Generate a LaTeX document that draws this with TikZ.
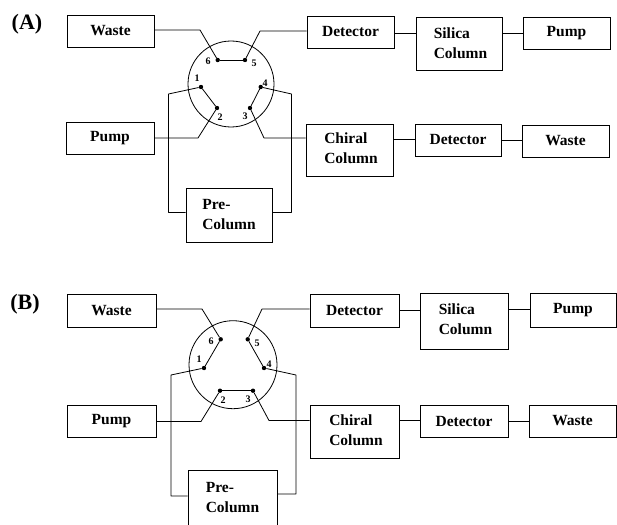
\documentclass[tikz,border=0pt]{standalone}
\usepackage{fontspec}
\setmainfont{Liberation Serif}
\begin{document}
\begin{tikzpicture}[x=1pt,y=-1pt,
  lbox/.style={draw,line width=0.8pt,font=\fontsize{15.5}{20}\selectfont\bfseries,align=left,inner sep=0pt},
  wire/.style={draw,line width=0.8pt,line join=round},
  port/.style={circle,fill=black,inner sep=0pt,minimum size=4.4pt},
  num/.style={font=\fontsize{10}{10}\selectfont\bfseries,inner sep=0pt},
  panel/.style={font=\fontsize{22}{24}\selectfont\bfseries,inner sep=0pt}]
\useasboundingbox (0,0) rectangle (617,524);
\node[panel] (labA) at (27,24) {(A)};
\node[panel] (labB) at (25,304) {(B)};
% Panel A boxes
\node[lbox,minimum width=87pt,minimum height=32pt] (aWaste) at (110.5,31) {Waste};
\node[lbox,minimum width=88pt,minimum height=32pt] (aPump) at (110,138) {Pump};
\node[lbox,minimum width=87pt,minimum height=32pt] (aDet1) at (350.5,32) {Detector};
\node[lbox,minimum width=86pt,minimum height=53pt] (aSil) at (459,43.5) {\hspace*{3pt}Silica\\\hspace*{3pt}Column};
\node[lbox,minimum width=87pt,minimum height=32pt] (aPump2) at (566.5,33) {Pump};
\node[lbox,minimum width=87pt,minimum height=52pt] (aChi) at (349.5,150) {\hspace*{3pt}Chiral\\\hspace*{3pt}Column\\[-23pt]\strut};
\node[lbox,minimum width=86pt,minimum height=32pt] (aDet2) at (458,140) {Detector};
\node[lbox,minimum width=87pt,minimum height=32pt] (aWaste2) at (565.5,141) {Waste};
\node[lbox,minimum width=86pt,minimum height=54pt] (aPre) at (229,215) {Pre-\\Column};
% Panel A valve
\node[draw,circle,line width=0.8pt,minimum size=86pt,inner sep=0pt] (aV) at (231,84) {};
\node[port] (a1) at (201,87) {};
\node[port] (a2) at (217,108) {};
\node[port] (a3) at (250,108) {};
\node[port] (a4) at (260.7,87) {};
\node[port] (a5) at (245,60) {};
\node[port] (a6) at (217.7,60) {};
\node[num] (na1) at (197,78) {1};
\node[num] (na2) at (220,117) {2};
\node[num] (na3) at (245,116) {3};
\node[num] (na4) at (265,83) {4};
\node[num] (na5) at (254,63) {5};
\node[num] (na6) at (208,61) {6};
\draw[wire] (a6)--(a5);
\draw[wire] (a1)--(a2);
\draw[wire] (a3)--(a4);
\coordinate (aw1) at (200,30);
\draw[wire] (aWaste.east|-aw1)--(aw1)--(a6);
\coordinate (aw2) at (260,31);
\draw[wire] (aDet1.west|-aw2)--(aw2)--(a5);
\coordinate (aw3) at (198,138);
\draw[wire] (aPump.east|-aw3)--(aw3)--(a2);
\coordinate (aw4) at (264,138);
\draw[wire] (aChi.west|-aw4)--(aw4)--(a3);
\coordinate (aw5) at (168.5,94); \coordinate (aw6) at (168.5,212.5);
\draw[wire] (a1)--(aw5)--(aw6)--(aPre.west|-aw6);
\coordinate (aw7) at (291.5,94); \coordinate (aw8) at (291.5,212.5);
\draw[wire] (a4)--(aw7)--(aw8)--(aPre.east|-aw8);
\coordinate (aw9) at (405,33);
\draw[wire] (aDet1.east|-aw9)--(aSil.west|-aw9);
\coordinate (aw10) at (512,33);
\draw[wire] (aSil.east|-aw10)--(aPump2.west|-aw10);
\coordinate (aw11) at (404,139);
\draw[wire] (aChi.east|-aw11)--(aDet2.west|-aw11);
\coordinate (aw12) at (512,140);
\draw[wire] (aDet2.east|-aw12)--(aWaste2.west|-aw12);
% Panel B boxes
\node[lbox,minimum width=89pt,minimum height=33pt] (bWaste) at (111.5,310.5) {Waste};
\node[lbox,minimum width=89pt,minimum height=32pt] (bPump) at (111.5,421) {Pump};
\node[lbox,minimum width=89pt,minimum height=33pt] (bDet1) at (354.5,310.5) {Detector};
\node[lbox,minimum width=88pt,minimum height=56pt] (bSil) at (464,321) {\hspace*{3pt}Silica\\\hspace*{3pt}Column\\[-23pt]\strut};
\node[lbox,minimum width=86pt,minimum height=34pt] (bPump2) at (573,310) {Pump};
\node[lbox,minimum width=89pt,minimum height=53pt] (bChi) at (354.5,431.5) {\hspace*{3pt}Chiral\\\hspace*{3pt}Column\\[-23pt]\strut};
\node[lbox,minimum width=88pt,minimum height=32pt] (bDet2) at (464,421) {Detector};
\node[lbox,minimum width=87pt,minimum height=32pt] (bWaste2) at (572.5,421) {Waste};
\node[lbox,minimum width=89pt,minimum height=64pt] (bPre) at (232.5,502) {Pre-\\Column\\[-16pt]\strut};
% Panel B valve
\node[draw,circle,line width=0.8pt,minimum size=88pt,inner sep=0pt] (bV) at (233,364.7) {};
\node[port] (b1) at (204,368) {};
\node[port] (b2) at (220,390.7) {};
\node[port] (b3) at (253,390.7) {};
\node[port] (b4) at (264,368) {};
\node[port] (b5) at (247.7,339.3) {};
\node[port] (b6) at (220.7,339.3) {};
\node[num] (nb1) at (199,359) {1};
\node[num] (nb2) at (223,400) {2};
\node[num] (nb3) at (248,399) {3};
\node[num] (nb4) at (269,364) {4};
\node[num] (nb5) at (257,343) {5};
\node[num] (nb6) at (211,341) {6};
\draw[wire] (b6)--(b1);
\draw[wire] (b5)--(b4);
\draw[wire] (b2)--(b3);
\coordinate (bw1) at (202,309);
\draw[wire] (bWaste.east|-bw1)--(bw1)--(b6);
\coordinate (bw2) at (262,309);
\draw[wire] (bDet1.west|-bw2)--(bw2)--(b5);
\coordinate (bw3) at (201,421.5);
\draw[wire] (bPump.east|-bw3)--(bw3)--(b2);
\coordinate (bw4) at (269,420.5);
\draw[wire] (bChi.west|-bw4)--(bw4)--(b3);
\coordinate (bw5) at (171,375); \coordinate (bw6) at (171,496);
\draw[wire] (b1)--(bw5)--(bw6)--(bPre.west|-bw6);
\coordinate (bw7) at (296,375); \coordinate (bw8) at (296,494);
\draw[wire] (b4)--(bw7)--(bw8)--(bPre.east|-bw8);
\coordinate (bw9) at (410,310);
\draw[wire] (bDet1.east|-bw9)--(bSil.west|-bw9);
\coordinate (bw10) at (519,309.5);
\draw[wire] (bSil.east|-bw10)--(bPump2.west|-bw10);
\coordinate (bw11) at (410,420);
\draw[wire] (bChi.east|-bw11)--(bDet2.west|-bw11);
\coordinate (bw12) at (519,421);
\draw[wire] (bDet2.east|-bw12)--(bWaste2.west|-bw12);
\end{tikzpicture}
\end{document}
